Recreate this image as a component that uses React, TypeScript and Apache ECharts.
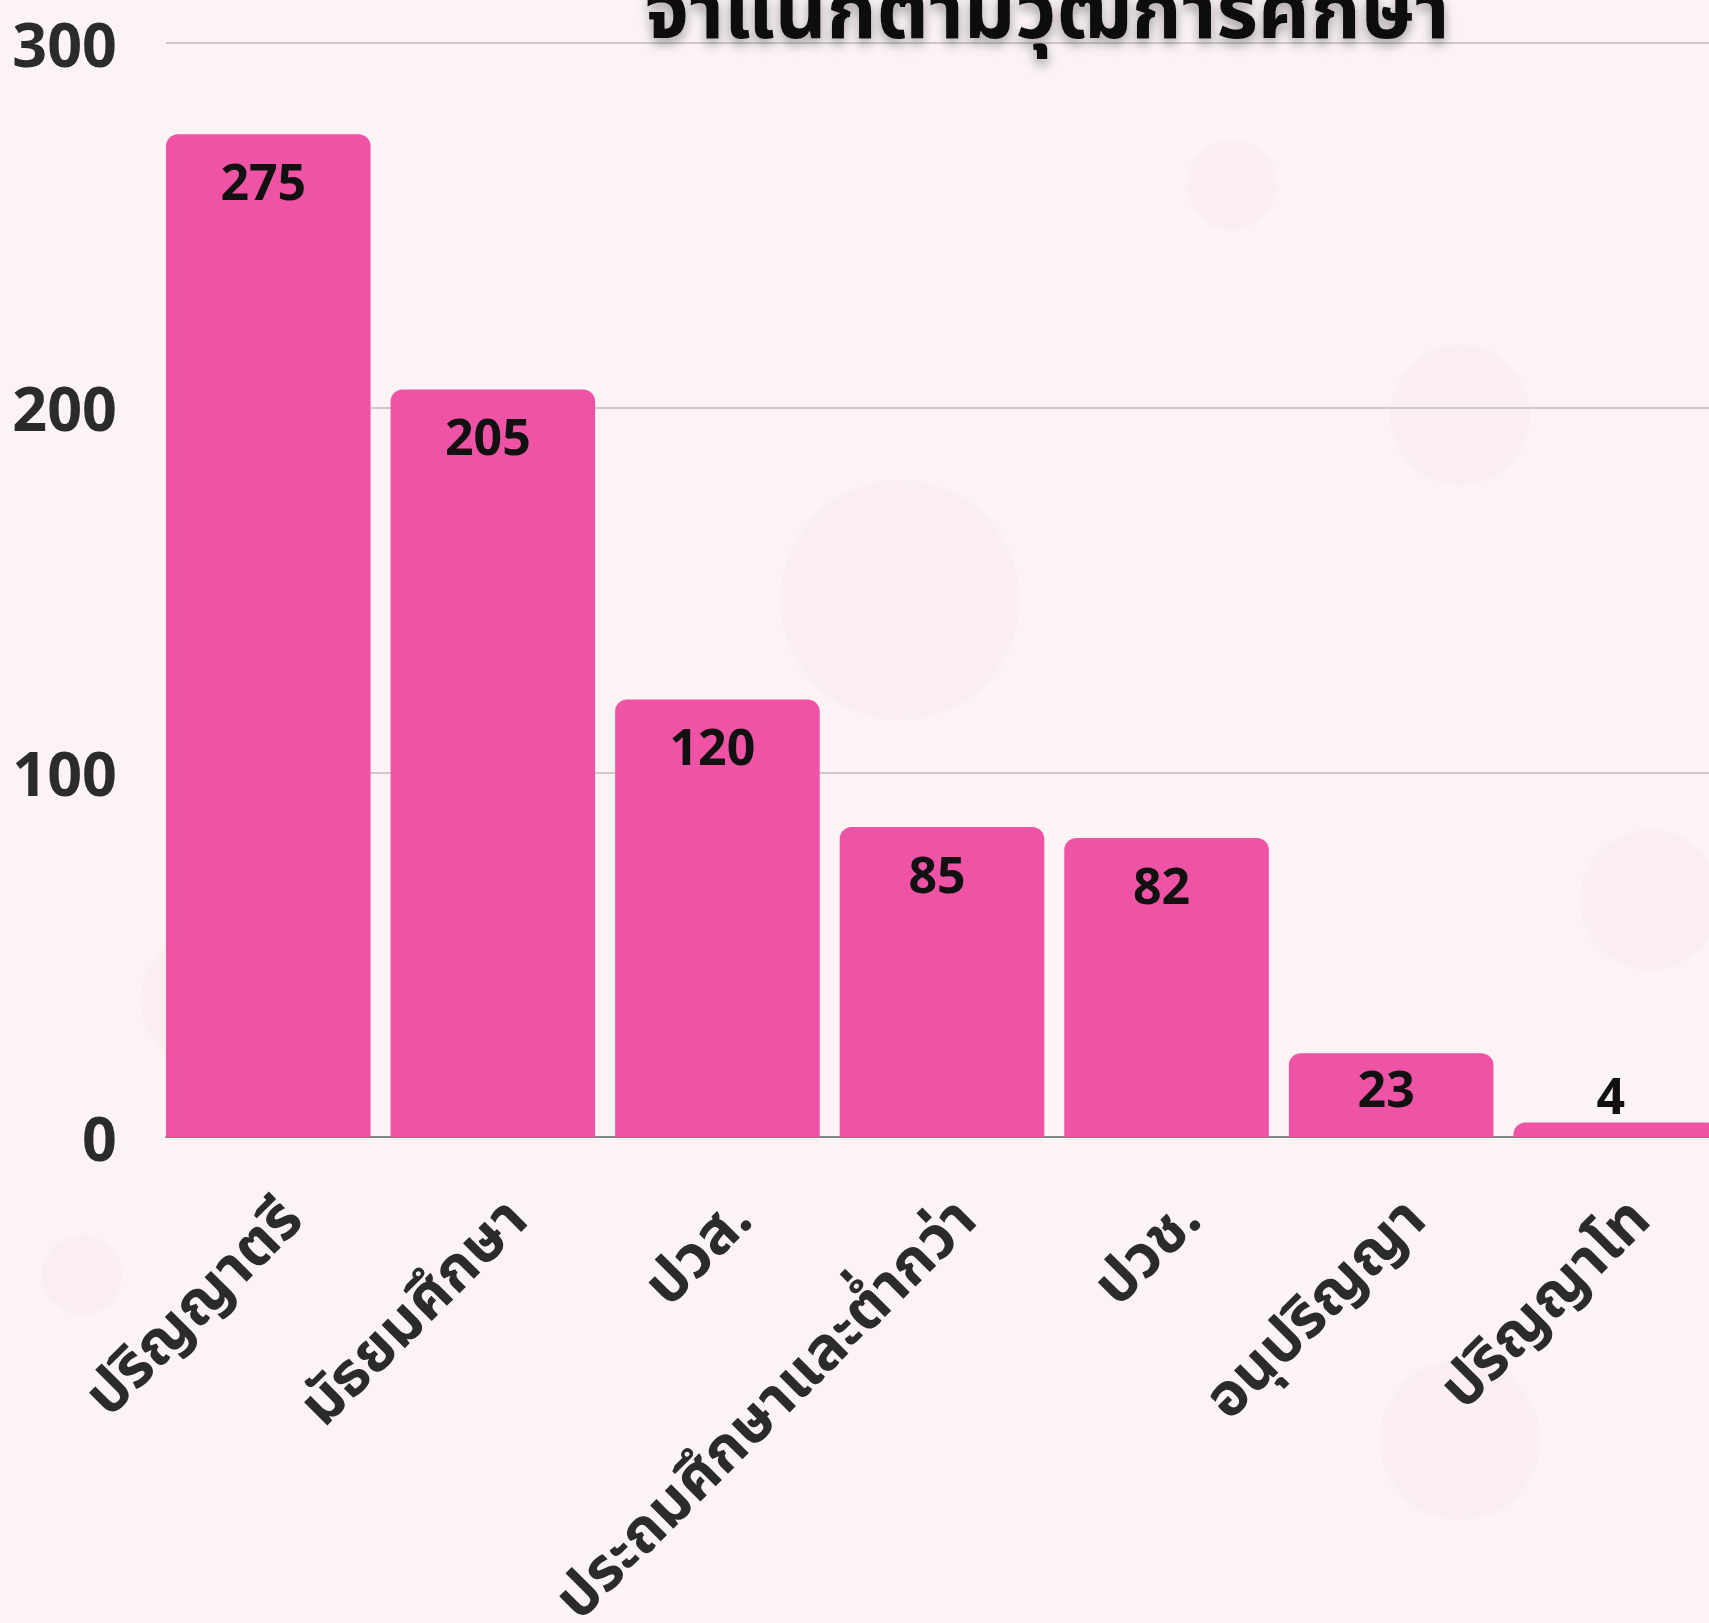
import React, { useEffect, useRef } from "react";
import * as echarts from "echarts";

const categories = [
  "ปริญญาตรี",
  "มัธยมศึกษา",
  "ปวส.",
  "ประถมศึกษาและต่ำกว่า",
  "ปวช.",
  "อนุปริญญา",
  "ปริญญาโท",
];
const values = [275, 205, 120, 85, 82, 23, 4];
const yTicks = [0, 100, 200, 300];
const titleText = "จำแนกตามวุฒิการศึกษา";

const FONT = "'Noto Sans', 'Noto Sans Thai', 'Open Sans', sans-serif";

export default function App() {
  const ref = useRef<HTMLDivElement>(null);
  useEffect(() => {
    if (!ref.current) return;
    const chart = echarts.init(ref.current, null, { renderer: "svg" });
    const gridTop = 43;
    const gridHeight = 1094;
    const blobs = [
      [1460, 415, 70],
      [1232, 185, 45],
      [82, 1275, 40],
      [1460, 1440, 80],
      [900, 600, 120],
      [200, 1000, 60],
      [1650, 900, 70],
    ];
    const option: any = {
      animation: false,
      backgroundColor: "#fbf3f4",
      textStyle: { fontFamily: FONT },
      graphic: [
        ...blobs.map((b) => ({
          type: "circle",
          z: -10,
          silent: true,
          shape: { cx: b[0], cy: b[1], r: b[2] },
          style: { fill: "rgba(236,190,198,0.07)" },
        })),
        {
          type: "text",
          x: 1047,
          y: 46,
          z: 10,
          style: {
            text: titleText,
            fontFamily: FONT,
            fontSize: 80,
            fontWeight: "bold",
            fill: "#111",
            align: "center",
            verticalAlign: "bottom",
            textShadowColor: "rgba(0,0,0,0.35)",
            textShadowBlur: 12,
            textShadowOffsetY: 6,
          },
        },
      ],
      grid: [
        {
          left: 166,
          top: gridTop,
          width: 1600,
          height: gridHeight,
          containLabel: false,
          outerBoundsMode: "none",
        },
        {
          left: 156,
          top: gridTop,
          width: 1572,
          height: gridHeight,
          containLabel: false,
          outerBoundsMode: "none",
        },
      ],
      xAxis: [
        {
          gridIndex: 0,
          type: "category",
          data: categories,
          axisLine: { show: true, lineStyle: { color: "#858585", width: 2 } },
          axisTick: { show: false },
          axisLabel: { show: false },
          splitLine: { show: false },
        },
        {
          gridIndex: 1,
          type: "category",
          data: categories,
          axisLine: { show: false },
          axisTick: { show: false },
          axisLabel: {
            rotate: 45,
            interval: 0,
            margin: 48,
            verticalAlign: "top",
            fontSize: 60,
            fontWeight: "bold",
            color: "#2b2b2b",
            fontFamily: FONT,
          },
        },
      ],
      yAxis: [
        {
          gridIndex: 0,
          type: "value",
          min: 0,
          max: 300,
          interval: 100,
          axisLine: { show: false },
          axisTick: { show: false },
          axisLabel: {
            margin: 49,
            fontSize: 61,
            fontWeight: "bold",
            color: "#2b2b2b",
            fontFamily: FONT,
            formatter: (v: number) => (yTicks.includes(v) ? String(v) : ""),
          },
          splitLine: { show: true, lineStyle: { color: "#c4babb", width: 1.5 } },
        },
        {
          gridIndex: 1,
          type: "value",
          min: 0,
          max: 300,
          interval: 100,
          show: false,
          splitLine: { show: false },
        },
      ],
      series: [
        {
          type: "bar",
          xAxisIndex: 1,
          yAxisIndex: 1,
          barCategoryGap: "8.9%",
          itemStyle: { color: "#ef53a5", borderRadius: [12, 12, 0, 0] },
          data: values.map((v) => ({
            value: v,
            label:
              v < 10
                ? { position: "top", distance: 2 }
                : v < 50
                ? { position: "insideTop", distance: 10 }
                : { position: "insideTop", distance: 22 },
          })),
          label: {
            show: true,
            offset: [-5, 0],
            fontSize: 50,
            fontWeight: "bold",
            color: "#111",
            fontFamily: FONT,
          },
        },
      ],
    };
    chart.setOption(option);
    return () => chart.dispose();
  }, []);
  return (
    <div
      ref={ref}
      style={{ position: "fixed", left: 0, top: 0, width: 1709, height: 1623 }}
    />
  );
}
